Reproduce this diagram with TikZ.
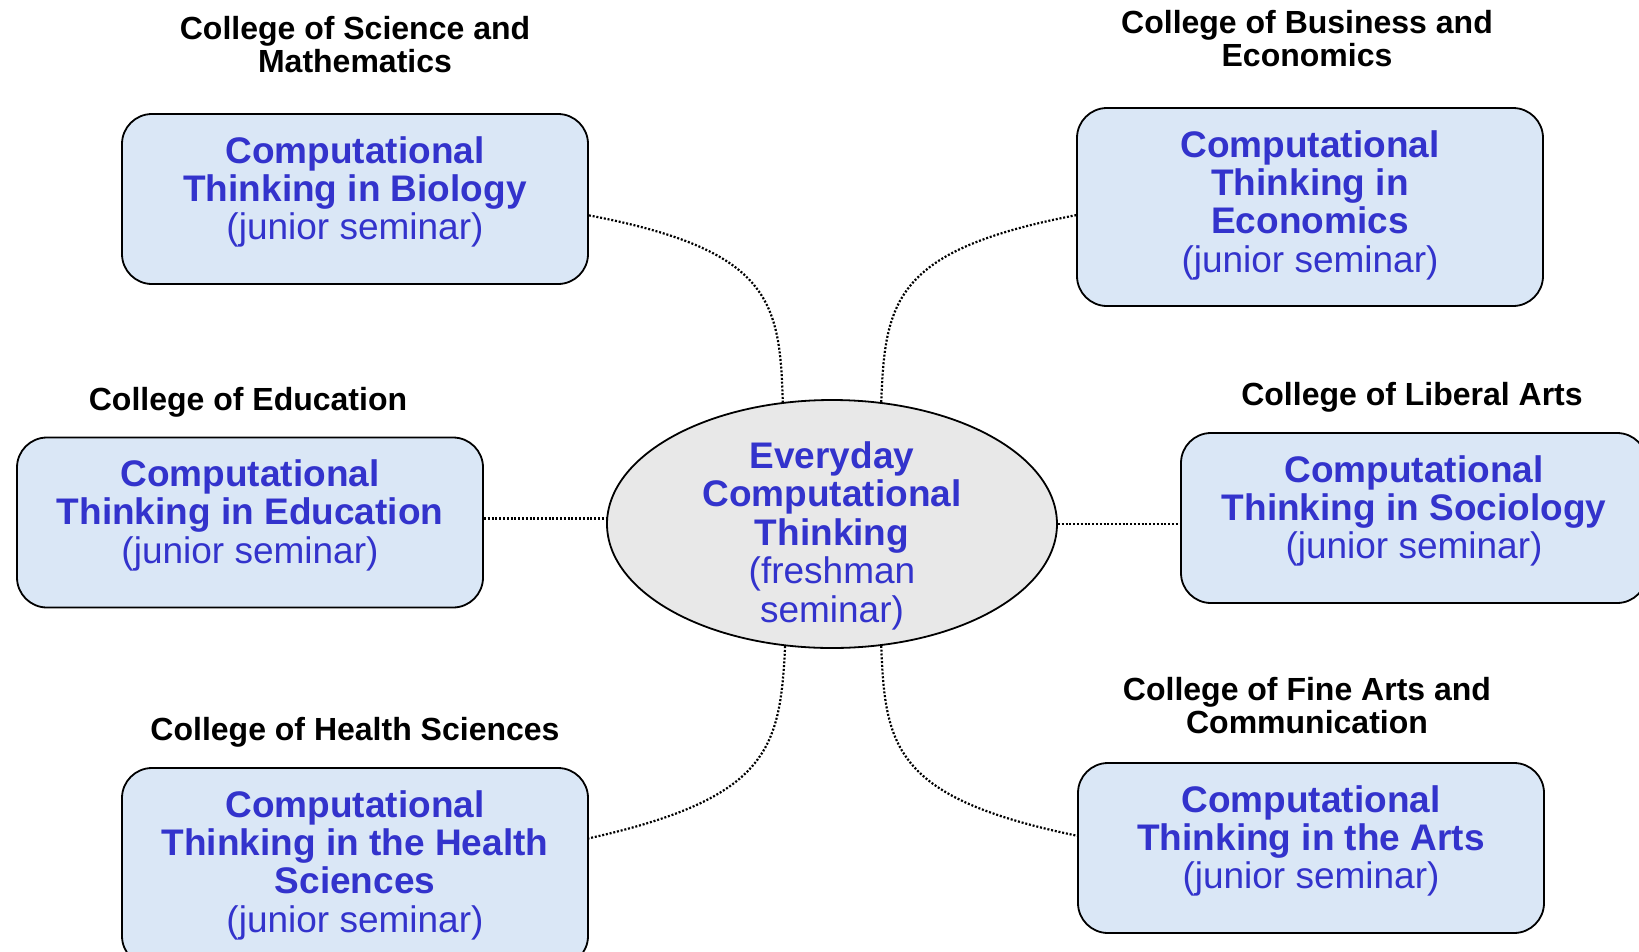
\documentclass[tikz,border=0pt]{standalone}
\usepackage{fontspec}
\setmainfont{Liberation Sans}
\usetikzlibrary{shapes.geometric}

\definecolor{ctblue}{RGB}{51,51,204}
\definecolor{boxfill}{RGB}{218,231,246}
\definecolor{hubfill}{RGB}{232,232,232}

\begin{document}
\begin{tikzpicture}[x=1pt, y=-1pt,
    course/.style={draw=black, line width=1.8pt, fill=boxfill, rounded corners=30pt,
      minimum width=466pt, minimum height=170pt, inner sep=0pt},
    tall/.style={minimum height=198pt},
    coursetext/.style={anchor=north, align=center, inner sep=0pt, text=ctblue,
      font=\fontsize{37}{38.3}\selectfont\bfseries},
    college/.style={anchor=north, align=center, inner sep=0pt,
      font=\fontsize{32}{33.5}\selectfont\bfseries},
    link/.style={line width=2.2pt, dash pattern=on 2pt off 1.8pt}]
      \useasboundingbox (0,0) rectangle (1639,951);

      % freshman seminar in the middle
      \node [ellipse, draw=black, line width=1.8pt, fill=hubfill, inner sep=0pt,
        minimum width=450pt, minimum height=248pt] (hub) at (832,524) {};
      \node [coursetext, font=\fontsize{37}{38.6}\selectfont\bfseries] (hubtext)
        at ([yshift=-42pt]hub.north)
        {Everyday\\Computational\\Thinking\\{\mdseries (freshman}\\{\mdseries seminar)}};

      % junior seminars
      \node [course] (bio) at (355,199) {};
      \node [course, tall] (eco) at (1310,207) {};
      \node [course] (edu) at (250,522.5) {};
      \node [course] (soc) at (1414,518) {};
      \node [course, tall] (hea) at (355,867) {};
      \node [course] (art) at (1311,848) {};

      \node [coursetext] (biotext) at ([yshift=-23pt]bio.north)
        {Computational\\Thinking in Biology\\{\mdseries (junior seminar)}};
      \node [coursetext] (ecotext) at ([yshift=-23pt]eco.north)
        {Computational\\Thinking in\\Economics\\{\mdseries (junior seminar)}};
      \node [coursetext] (edutext) at ([yshift=-23pt]edu.north)
        {Computational\\Thinking in Education\\{\mdseries (junior seminar)}};
      \node [coursetext] (soctext) at ([yshift=-23pt]soc.north)
        {Computational\\Thinking in Sociology\\{\mdseries (junior seminar)}};
      \node [coursetext] (heatext) at ([yshift=-23pt]hea.north)
        {Computational\\Thinking in the Health\\Sciences\\{\mdseries (junior seminar)}};
      \node [coursetext] (arttext) at ([yshift=-23pt]art.north)
        {Computational\\Thinking in the Arts\\{\mdseries (junior seminar)}};

      % colleges
      \node [college] (sci) at (355,15.7) {College of Science and\\Mathematics};
      \node [college] (bus) at (1307,10) {College of Business and\\Economics};
      \node [college] (educ) at (248,387) {College of Education};
      \node [college] (lib) at (1412,382) {College of Liberal Arts};
      \node [college] (heal) at (355,717) {College of Health Sciences};
      \node [college] (fine) at (1307,677) {College of Fine Arts and\\Communication};

      % links
      \draw [link] (bio.-4) .. controls (770,250) and (780,300) .. (hub.112);
      \draw [link] (hub.68) .. controls (885,300) and (895,250) .. (eco.182);
      \draw [link] (edu.1) -- (edu.1 -| hub.west);
      \draw [link] (hub.east) -- (hub.east -| soc.west);
      \draw [link] (hub.-111) .. controls (780,748) and (770,798) .. (hea.7);
      \draw [link] (hub.-68) .. controls (885,748) and (895,798) .. (art.177);

\end{tikzpicture}
\end{document}
